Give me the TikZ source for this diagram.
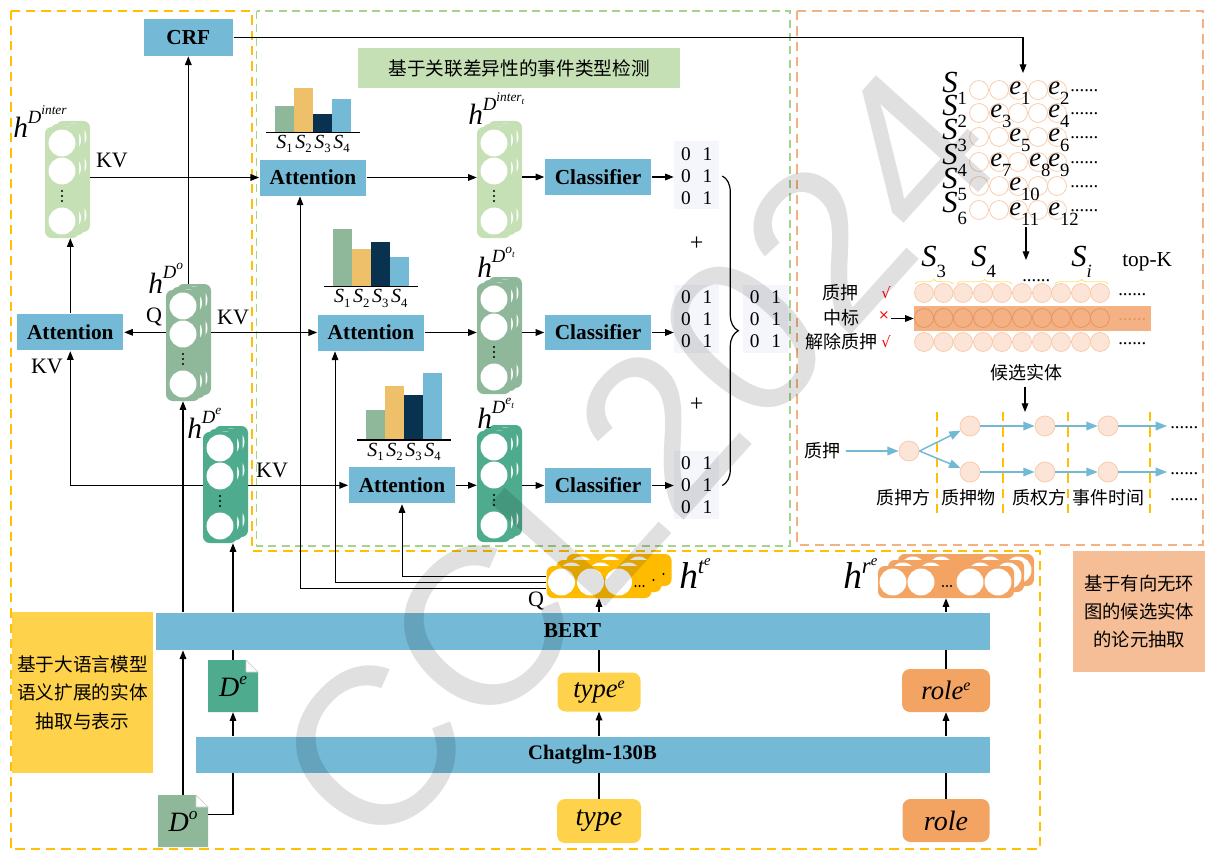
\documentclass[tikz,border=0pt]{standalone}
\usepackage{fontspec}
\setmainfont{Liberation Serif}
\newfontfamily\cjk{Noto Sans CJK SC}
\newfontfamily\djv{DejaVu Sans}
\newfontfamily\wmfont{Liberation Sans}
\usetikzlibrary{arrows.meta,calc,decorations.pathreplacing}
\definecolor{boxblue}{RGB}{116,185,214}
\definecolor{lgreen}{RGB}{197,224,180}
\definecolor{sage}{RGB}{143,184,155}
\definecolor{teal2}{RGB}{78,171,142}
\definecolor{ybox}{RGB}{255,210,76}
\definecolor{gold}{RGB}{255,187,0}
\definecolor{roleo}{RGB}{243,164,98}
\definecolor{rbox}{RGB}{246,190,150}
\definecolor{navy}{RGB}{8,50,79}
\definecolor{bary}{RGB}{238,192,106}
\definecolor{yframe}{RGB}{255,192,0}
\definecolor{gframe}{RGB}{169,209,142}
\definecolor{oframe}{RGB}{244,177,131}
\definecolor{mbg}{RGB}{244,246,252}
\definecolor{circo}{RGB}{248,203,173}
\definecolor{circf}{RGB}{252,229,214}
\definecolor{bando}{RGB}{244,177,131}
\definecolor{bandc}{RGB}{230,148,98}
\definecolor{dagblue}{RGB}{114,185,214}
\definecolor{braceY}{RGB}{255,222,120}
\newcommand\hD[2]{{\fontsize{22}{22}\selectfont\itshape h\raisebox{11pt}{\fontsize{14}{14}\selectfont D\raisebox{6.5pt}{\fontsize{10}{10}\selectfont #1\raisebox{-2.5pt}{\fontsize{7}{7}\selectfont #2}}}}}
\newcommand\hT[1]{{\fontsize{28}{28}\selectfont\itshape h\raisebox{11pt}{\fontsize{17}{17}\selectfont #1\raisebox{6pt}{\fontsize{11}{11}\selectfont e}}}}
\newcommand\Sb[1]{{\itshape S}\raisebox{-3.5pt}{\fontsize{9.5}{9.5}\selectfont #1}}
\newcommand\Sg[1]{{\itshape S}\raisebox{-8.5pt}{\fontsize{14}{14}\selectfont #1}}
\newcommand\eg[1]{{\itshape e}\raisebox{-7.5pt}{\fontsize{14}{14}\selectfont #1}}
\newcommand\vstack[4]{%
  \foreach \dx/\dy in {11/-6,5.5/-3,0/0}{%
    \fill[#4,rounded corners=5pt] (#2+\dx,#3+\dy) rectangle (#2+\dx+34,#3+\dy+111);
    \foreach \cy in {16,44,94}{\fill[white] (#2+\dx+17,#3+\dy+\cy) circle[radius=10.1pt];}
    \foreach \cy in {64,69,74}{\fill[black] (#2+\dx+17,#3+\dy+\cy) circle[radius=0.9pt];}
  }
  \node[inner sep=0,minimum width=25.5pt,minimum height=83.25pt] (#1) at (#2+17,#3+55.5) {};
  \coordinate (#1-bt) at (#2+17,#3-6);
  \coordinate (#1-be) at (#2+45,#3+55.5);
}
\newcommand\hstack[7]{%
  \foreach \dx/\dy in {20/-12,10/-6,0/0}{%
    \fill[#5,rounded corners=5pt] (#2+\dx,#3+\dy) rectangle (#2+\dx+#4,#3+\dy+32);
    \foreach \cx in {#6}{\fill[white] (#2+\dx+\cx,#3+\dy+16) circle[radius=10.1pt];}
    \foreach \ddx in {-4,0,4}{\fill[black] (#2+\dx+#7+\ddx,#3+\dy+20) circle[radius=0.8pt];}
  }
  \node[inner sep=0,minimum width=#4*0.75pt,minimum height=24pt] (#1) at (#2+#4/2,#3+16) {};
}
\newcommand\docnode[5]{%
  \fill[#4] (#2,#3) -- (#2+38,#3) -- (#2+50,#3+12) -- (#2+50,#3+52) -- (#2,#3+52) -- cycle;
  \filldraw[fill=white,draw=gray!40,line width=0.4pt] (#2+38,#3) -- (#2+38,#3+12) -- (#2+50,#3+12) -- cycle;
  \node[inner sep=0,minimum width=37.5pt,minimum height=39pt,font=\fontsize{21}{21}\selectfont] (#1) at (#2+25,#3+26) {#5};
}
\newcommand\bars[7]{%
  \fill[sage] (#2,#3) rectangle (#2+19,#4);
  \fill[bary] (#2+19,#3) rectangle (#2+38,#5);
  \fill[navy] (#2+38,#3) rectangle (#2+57,#6);
  \fill[boxblue] (#2+57,#3) rectangle (#2+76,#7);
  \draw[line width=0.9pt] (#2-9,#3) -- (#2+85,#3);
  \foreach \k in {1,2,3,4}{\node[anchor=base,inner sep=0,font=\fontsize{15}{15}\selectfont] (#1\k) at (#2-9.5+19*\k,#3+16) {\Sb{\k}};}
}
\newcommand\matx[4]{%
  \node[fill=mbg,inner sep=0,minimum width=33.75pt,minimum height=51pt] (#1) at (#2,#3) {};
  \foreach \r/\ry in {1/-22.3,2/0,3/22}{%
    \node[inner sep=0,font=\fontsize{14.5}{14.5}\selectfont] (#1a\r) at (#2-10.5,#4+\ry) {0};
    \node[inner sep=0,font=\fontsize{14.5}{14.5}\selectfont] (#1b\r) at (#2+11,#4+\ry) {1};
  }
}
\begin{document}
\begin{tikzpicture}[x=0.75pt,y=-0.75pt,
  arr/.style={-{Triangle[length=6.5pt,width=5pt]},line width=0.85pt},
  ln/.style={line width=0.85pt},
  qln/.style={line width=0.7pt,-{Triangle[length=6.5pt,width=5pt]}},
  bbox/.style={fill=boxblue,draw=white,line width=0.6pt,inner sep=0,font=\bfseries\fontsize{16}{16}\selectfont},
  lab/.style={inner sep=0,font=\fontsize{16.5}{16.5}\selectfont},
  cn/.style={inner sep=0,font=\cjk\fontsize{13.5}{13.5}\selectfont},
  tbox/.style={rounded corners=6pt,inner sep=0,font=\fontsize{20}{20}\selectfont\itshape},
  dots/.style={inner sep=0,anchor=base west,font=\fontsize{14}{14}\selectfont},
  gc/.style={draw=circo,line width=0.6pt},
  lc/.style={draw=circo,fill=circf,line width=0.6pt},
  dagc/.style={circle,draw=circo,fill=circf,line width=0.6pt,minimum size=15pt,inner sep=0},
  darr/.style={dagblue,line width=1.1pt,-{Triangle[length=8.5pt,width=6.5pt]}},
  vdash/.style={yframe,line width=1.3pt,dash pattern=on 7pt off 4.5pt}]
\useasboundingbox (0,0) rectangle (1205,852);
% frames
\draw[yframe,line width=1.5pt,dash pattern=on 7pt off 4.5pt] (10.7,11) -- (251.7,11) -- (251.7,551) -- (1040,551) -- (1040,849) -- (10.7,849) -- cycle;
\draw[gframe,line width=1pt,dash pattern=on 6pt off 4pt] (256.7,11) rectangle (790,546);
\draw[oframe,line width=1pt,dash pattern=on 7pt off 4.5pt] (797,11) rectangle (1203,545);
% boxes
\node[bbox,minimum width=67.5pt,minimum height=28.2pt] (crf) at (188.3,37.2) {CRF};
\node[fill=lgreen,inner sep=0,minimum width=241.5pt,minimum height=30pt,font=\cjk\fontsize{14}{14}\selectfont] (gtitle) at (519,68) {基于关联差异性的事件类型检测};
\node[bbox,minimum width=80.25pt,minimum height=27.75pt] (attT) at (313,177.5) {Attention};
\node[bbox,minimum width=80.25pt,minimum height=27.75pt] (attM) at (371,332.5) {Attention};
\node[bbox,minimum width=80.25pt,minimum height=27.75pt] (attB) at (402,485.3) {Attention};
\node[bbox,minimum width=80.25pt,minimum height=27.75pt] (attL) at (70.3,332.3) {Attention};
\node[bbox,minimum width=80pt,minimum height=27.5pt] (clsT) at (598,177) {Classifier};
\node[bbox,minimum width=80pt,minimum height=27.5pt] (clsM) at (598,332.5) {Classifier};
\node[bbox,minimum width=80pt,minimum height=27.5pt] (clsB) at (598,485.5) {Classifier};
\node[bbox,minimum width=626.25pt,minimum height=28.5pt] (bert) at (572.5,631) {BERT};
\node[bbox,minimum width=596.25pt,minimum height=27.75pt,font=\bfseries\fontsize{15.5}{15.5}\selectfont] (chat) at (592.5,754.5) {Chatglm-130B};
\node[fill=ybox,inner sep=0,minimum width=106.2pt,minimum height=121.2pt,align=center,font=\cjk\fontsize{14}{21.4}\selectfont] (lbox) at (82.5,692.5) {基于大语言模型\\语义扩展的实体\\抽取与表示};
\node[fill=rbox,inner sep=0,minimum width=98.8pt,minimum height=91pt,align=center,font=\cjk\fontsize{13.75}{21}\selectfont] (rbx) at (1139.2,611.4) {基于有向无环\\图的候选实体\\的论元抽取};
\node[tbox,fill=ybox,minimum width=62.25pt,minimum height=29.25pt] (typeE) at (599,692) {type\raisebox{7pt}{\fontsize{12}{12}\selectfont e}};
\node[tbox,fill=ybox,minimum width=63pt,minimum height=33pt,font=\fontsize{21}{21}\selectfont\itshape] (type) at (599,821) {type};
\node[tbox,fill=roleo,minimum width=66pt,minimum height=32.25pt] (roleE) at (946,690.5) {role\raisebox{7pt}{\fontsize{12}{12}\selectfont e}};
\node[tbox,fill=roleo,minimum width=65.25pt,minimum height=32.25pt,font=\fontsize{21}{21}\selectfont\itshape] (role) at (946,820.5) {role};
% documents
\docnode{dE}{208}{660}{teal2}{\itshape D\raisebox{9pt}{\fontsize{13}{13}\selectfont e}}
\docnode{dO}{158}{795}{sage}{\itshape D\raisebox{9pt}{\fontsize{13}{13}\selectfont o}}
% stacks
\vstack{sI}{45}{127}{lgreen}
\vstack{sO}{166}{290}{sage}
\vstack{sE}{203}{432}{teal2}
\vstack{sIt}{477}{127}{lgreen}
\vstack{sOt}{477}{283}{sage}
\vstack{sEt}{477}{431}{teal2}
\hstack{tS}{546.5}{566}{105}{gold}{15,44,72}{93}
\hstack{rS}{878}{566}{136}{roleo}{15,43,92,120}{69}
% stack labels
\node[anchor=base west,inner sep=0] (lI) at (13,138) {\hD{inter}{}};
\node[anchor=base west,inner sep=0] (lO) at (148,293) {\hD{o}{}};
\node[anchor=base west,inner sep=0] (lE) at (187,438) {\hD{e}{}};
\node[anchor=base west,inner sep=0] (lIt) at (468,125) {\hD{inter}{t}};
\node[anchor=base west,inner sep=0] (lOt) at (477,277) {\hD{o}{t}};
\node[anchor=base west,inner sep=0] (lEt) at (477,428) {\hD{e}{t}};
\node[anchor=base west,inner sep=0] (lT) at (679,588) {\hT{t}};
\node[anchor=base west,inner sep=0] (lR) at (843,588) {\hT{r}};
% bar charts
\bars{bt}{275}{132.3}{105.7}{87.7}{114.3}{99}
\bars{bm}{332.7}{286.7}{229.3}{249.3}{241.7}{257.3}
\bars{bb}{366}{440}{410}{385.7}{395}{372.7}
% matrices
\matx{mT}{696.5}{175.5}{176}
\matx{mM}{696.5}{318.5}{319.5}
\matx{mB}{696.5}{484.8}{485.5}
\matx{mR}{765.3}{318.5}{319.5}
\node[inner sep=0,font=\fontsize{18}{18}\selectfont] (p1) at (696.7,243.3) {+};
\node[inner sep=0,font=\fontsize{18}{18}\selectfont] (p2) at (696.7,405) {+};
\draw[decorate,decoration={brace,amplitude=12pt},line width=0.9pt] (mT.east |- mTa2) ++(3,0) coordinate (br1) -- (br1 |- mBa2);
% labels
\node[lab] (kv1) at (112,160) {KV};
\node[lab] (q1) at (154,317) {Q};
\node[lab] (kv2) at (233,317) {KV};
\node[lab] (kv3) at (47,366) {KV};
\node[lab] (kv4) at (272,470) {KV};
\node[lab] (q2) at (536,601) {Q};
% connectors left part
\draw[arr] (crf.south |- sO-bt) -- (crf.south);
\draw[arr] (attT.west -| sI-be) -- (attT.west);
\draw[arr] (attL.north) -- (attL.north |- sI.south);
\draw[arr] (attL.east -| sO.west) -- (attL.east);
\draw[arr] (attM.west -| sO-be) -- (attM.west);
\draw[arr] (attB.west -| sE-be) -- (attB.west);
\draw[arr] (attB.west -| sE.west) -| (attL.south);
\foreach \a/\s/\c/\m in {attT/sIt/clsT/mT,attM/sOt/clsM/mM,attB/sEt/clsB/mB}{
  \draw[arr] (\a.east) -- (\a.east -| \s.west);
  \draw[arr] (\c.west -| \s-be) -- (\c.west);
  \draw[arr] (\c.east) -- (\c.east -| \m.west);
}
\draw[qln] ([yshift=4.5pt]tS.west) -| (attB.south);
\draw[qln] (tS.west) -| ([xshift=-27pt]attM.south);
\draw[qln] ([yshift=-4.5pt]tS.west) -| ([xshift=-9.75pt]attT.south);
% bottom connectors
\draw[arr] (dO.north) -- (dO.north |- bert.south);
\draw[arr] (bert.north -| sO.south) -- (sO.south);
\draw[ln] (dE.north) -- (dE.north |- bert.south);
\draw[arr] (bert.north -| dE.north) -- (dE.north |- sE.south);
\draw[ln] ([yshift=5pt]dO.east) -| (dE.south |- chat.south);
\draw[arr] (chat.north -| dE.south) -- (dE.south);
\draw[ln] (type.north) -- (type.north |- chat.south);
\draw[arr] (chat.north -| typeE.south) -- (typeE.south);
\draw[ln] (typeE.north) -- (typeE.north |- bert.south);
\draw[arr] (bert.north -| tS.south) -- (tS.south);
\draw[ln] (role.north) -- (role.north |- chat.south);
\draw[arr] (chat.north -| roleE.south) -- (roleE.south);
\draw[ln] (roleE.north) -- (roleE.north |- bert.south);
\draw[arr] (bert.north -| rS.south) -- (rS.south);
% right panel: grid
\coordinate (gtop) at (1023,73);
\draw[arr] (crf.east) -| (gtop);
\foreach \r/\yy in {1/90,2/113,3/137,4/162,5/186,6/210}{
  \foreach \xx in {979,999,1018,1038,1057}{\draw[gc] (\xx,\yy) circle[radius=7.1pt];}
  \node[anchor=base west,inner sep=0,font=\fontsize{23}{23}\selectfont] (S\r) at (942,\yy+3) {\Sg{\r}};
  \node[dots] (gd\r) at (1070,\yy+2) {......};
}
\foreach \cx/\r/\k in {1018/1/1,1057/1/2,999/2/3,1057/2/4,1018/3/5,1057/3/6,999/4/7,1038/4/8,1057/4/9,1018/5/10,1018/6/11,1057/6/12}{
  \pgfmathsetmacro\ey{{0,90,113,137,162,186,210}[\r]}
  \node[anchor=base west,inner sep=0,font=\fontsize{20}{20}\selectfont] (e\k) at (\cx-9,\ey+5) {\eg{\k}};
}
\coordinate (ga) at (1026,227);
\coordinate (gb) at (1026,260);
\draw[arr] (ga) -- (gb);
\node[anchor=base west,inner sep=0,font=\fontsize{23}{23}\selectfont] (tk3) at (921,266) {\Sg{3}};
\node[anchor=base west,inner sep=0,font=\fontsize{23}{23}\selectfont] (tk4) at (971,266) {\Sg{4}};
\node[anchor=base west,inner sep=0,font=\fontsize{23}{23}\selectfont] (tki) at (1071,266) {\Sg{\itshape i}};
\node[dots] (tkd) at (1022,281) {......};
\node[anchor=base west,inner sep=0,font=\fontsize{16}{16}\selectfont] (topk) at (1122,266) {top-K};
\foreach \a/\b in {915/953,957/1012,1055/1108}{
  \draw[braceY,line width=0.6pt,decorate,decoration={brace,amplitude=3.5pt}] (\a,284) -- (\b,284);
}
\node[fill=bando,inner sep=0,minimum width=177.75pt,minimum height=18.75pt] (band) at (1032.5,318.5) {};
\foreach \xx in {924,943.5,963,983,1002,1022,1042,1061,1081,1100}{
  \draw[lc] (\xx,293) circle[radius=7.1pt];
  \draw[lc] (\xx,342) circle[radius=7.1pt];
  \draw[bandc,line width=0.6pt] (\xx,318) circle[radius=7.1pt];
}
\node[dots] (rd1) at (1118,295) {......};
\node[dots,text=bandc] (rd2) at (1118,320) {......};
\node[dots] (rd3) at (1118,344) {......};
\node[cn] (zy) at (840,293) {质押};
\node[inner sep=0,text=red,font=\djv\fontsize{11}{11}\selectfont] (ck1) at (886,293) {√};
\node[cn] (zb) at (841,318) {中标};
\node[inner sep=0,text=red,font=\djv\fontsize{10}{10}\selectfont] (xm) at (884,316) {×};
\draw[arr] ([xshift=1pt]xm.east |- band.west) -- (band.west);
\node[cn] (jc) at (841,342) {解除质押};
\node[inner sep=0,text=red,font=\djv\fontsize{11}{11}\selectfont] (ck2) at (886,342) {√};
\node[cn] (hx) at (1026,373) {候选实体};
\coordinate (ha) at (1025,387);
\coordinate (hb) at (1025,412);
\draw[arr] (ha) -- (hb);
% DAG
\foreach \xx in {937,1003,1068,1150}{\draw[vdash] (\xx,412) -- (\xx,514);}
\node[cn] (dz) at (822,451) {质押};
\node[dagc] (d0) at (909,451) {};
\node[dagc] (u1) at (970,426) {};
\node[dagc] (u2) at (1045,426) {};
\node[dagc] (u3) at (1108,426) {};
\node[dagc] (w1) at (970,472) {};
\node[dagc] (w2) at (1045,472) {};
\node[dagc] (w3) at (1108,472) {};
\coordinate (ue) at (1167,426);
\coordinate (we) at (1167,472);
\draw[darr] ([xshift=4pt]dz.east) -- (d0.west);
\draw[darr] (d0.east) -- (u1);
\draw[darr] (d0.east) -- (w1);
\draw[darr] (u1) -- (u2);
\draw[darr] (u2) -- (u3);
\draw[darr] (u3) -- (ue);
\draw[darr] (w1) -- (w2);
\draw[darr] (w2) -- (w3);
\draw[darr] (w3) -- (we);
\node[dots] (ud) at (1170,428) {......};
\node[dots] (wd) at (1170,474) {......};
\node[cn] (c1) at (903,498) {质押方};
\node[cn] (c2) at (968,498) {质押物};
\node[cn] (c3) at (1039,498) {质权方};
\node[cn] (c4) at (1108,498) {事件时间};
\node[dots] (c5) at (1170,500) {......};
% watermark
\node[rotate=48,inner sep=0,font=\wmfont\fontsize{168}{168}\selectfont,text=black,text opacity=0.12] (wm) at (636,458) {CCL2024};
\end{tikzpicture}
\end{document}
